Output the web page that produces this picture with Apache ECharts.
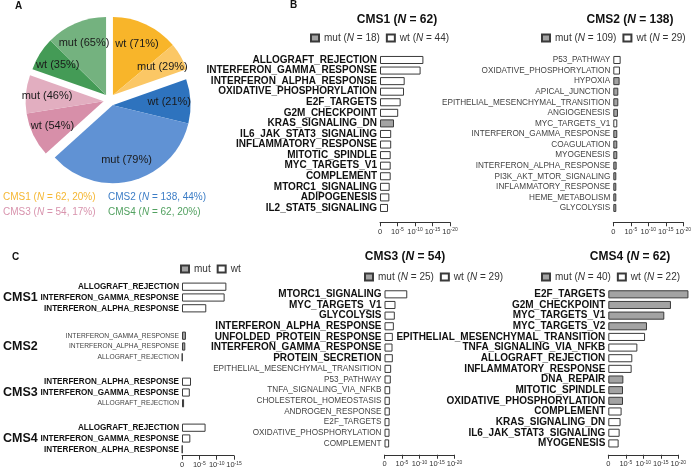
<!DOCTYPE html>
<html><head><meta charset="utf-8">
<script src="https://cdn.jsdelivr.net/npm/echarts/dist/echarts.min.js"></script>
<style>html,body{margin:0;padding:0;background:#fff}#c{width:695px;height:473px}</style>
</head><body><div id="c"></div>
<script>
// ---------------- DATA ----------------
// Panel A
const cmsNames = ['CMS1', 'CMS2', 'CMS3', 'CMS4'];
const cmsN = [62, 138, 54, 62];
const cmsWtN = [44, 29, 29, 22];
const cmsMutN = [18, 109, 25, 40];

// Panel B – CMS1
const b1Terms = ['ALLOGRAFT_REJECTION','INTERFERON_GAMMA_RESPONSE','INTERFERON_ALPHA_RESPONSE','OXIDATIVE_PHOSPHORYLATION','E2F_TARGETS','G2M_CHECKPOINT','KRAS_SIGNALING_DN','IL6_JAK_STAT3_SIGNALING','INFLAMMATORY_RESPONSE','MITOTIC_SPINDLE','MYC_TARGETS_V1','COMPLEMENT','MTORC1_SIGNALING','ADIPOGENESIS','IL2_STAT5_SIGNALING'];
const b1Values = [12.4, 11.6, 7.05, 6.86, 5.9, 5.2, 4.0, 3.2, 3.2, 3.05, 3.05, 3.05, 2.76, 2.67, 2.29];
const b1Group = ['wt','wt','wt','wt','wt','wt','mut','wt','wt','wt','wt','wt','wt','wt','wt'];
const b1Sig = [1,1,1,1,1,1,1,1,1,1,1,1,1,1,1];

// Panel B – CMS2
const b2Terms = ['P53_PATHWAY','OXIDATIVE_PHOSPHORYLATION','HYPOXIA','APICAL_JUNCTION','EPITHELIAL_MESENCHYMAL_TRANSITION','ANGIOGENESIS','MYC_TARGETS_V1','INTERFERON_GAMMA_RESPONSE','COAGULATION','MYOGENESIS','INTERFERON_ALPHA_RESPONSE','PI3K_AKT_MTOR_SIGNALING','INFLAMMATORY_RESPONSE','HEME_METABOLISM','GLYCOLYSIS'];
const b2Values = [2.1, 1.9, 1.8, 1.43, 1.43, 1.33, 1.14, 1.14, 1.14, 1.14, 0.95, 0.86, 0.86, 0.86, 0.86];
const b2Group = ['wt','wt','mut','mut','mut','mut','wt','mut','mut','mut','mut','mut','mut','mut','mut'];
const b2Sig = [0,0,0,0,0,0,0,0,0,0,0,0,0,0,0];

// Panel C – CMS3
const c3Terms = ['MTORC1_SIGNALING','MYC_TARGETS_V1','GLYCOLYSIS','INTERFERON_ALPHA_RESPONSE','UNFOLDED_PROTEIN_RESPONSE','INTERFERON_GAMMA_RESPONSE','PROTEIN_SECRETION','EPITHELIAL_MESENCHYMAL_TRANSITION','P53_PATHWAY','TNFA_SIGNALING_VIA_NFKB','CHOLESTEROL_HOMEOSTASIS','ANDROGEN_RESPONSE','E2F_TARGETS','OXIDATIVE_PHOSPHORYLATION','COMPLEMENT'];
const c3Values = [6.5, 3.14, 2.95, 2.67, 2.38, 2.29, 2.38, 1.9, 1.8, 1.62, 1.52, 1.52, 1.43, 1.43, 1.33];
const c3Group = ['wt','wt','wt','wt','wt','wt','wt','wt','wt','wt','wt','wt','wt','wt','wt'];
const c3Sig = [1,1,1,1,1,1,1,0,0,0,0,0,0,0,0];

// Panel C – CMS4
const c4Terms = ['E2F_TARGETS','G2M_CHECKPOINT','MYC_TARGETS_V1','MYC_TARGETS_V2','EPITHELIAL_MESENCHYMAL_TRANSITION','TNFA_SIGNALING_VIA_NFKB','ALLOGRAFT_REJECTION','INFLAMMATORY_RESPONSE','DNA_REPAIR','MITOTIC_SPINDLE','OXIDATIVE_PHOSPHORYLATION','COMPLEMENT','KRAS_SIGNALING_DN','IL6_JAK_STAT3_SIGNALING','MYOGENESIS'];
const c4Values = [22.9, 17.9, 16.0, 11.05, 10.5, 8.3, 6.86, 6.67, 4.3, 4.2, 4.2, 3.8, 3.5, 3.24, 2.95];
const c4Group = ['mut','mut','mut','mut','wt','wt','wt','wt','mut','mut','mut','wt','wt','wt','wt'];
const c4Sig = [1,1,1,1,1,1,1,1,1,1,1,1,1,1,1];

// Panel C – immune sets per CMS
const cLeftTerms = [
  ['ALLOGRAFT_REJECTION','INTERFERON_GAMMA_RESPONSE','INTERFERON_ALPHA_RESPONSE'],
  ['INTERFERON_GAMMA_RESPONSE','INTERFERON_ALPHA_RESPONSE','ALLOGRAFT_REJECTION'],
  ['INTERFERON_ALPHA_RESPONSE','INTERFERON_GAMMA_RESPONSE','ALLOGRAFT_REJECTION'],
  ['ALLOGRAFT_REJECTION','INTERFERON_GAMMA_RESPONSE','INTERFERON_ALPHA_RESPONSE']
];
const cLeftValues = [[12.8, 12.3, 7.0], [1.14, 0.95, 0.12], [2.6, 2.25, 0.6], [6.8, 2.4, 0.12]];
const cLeftGroup = [['wt','wt','wt'], ['mut','mut','mut'], ['wt','wt','mut'], ['wt','wt','wt']];
const cLeftSig = [[1,1,1], [0,0,0], [1,1,0], [1,1,1]];

// ---------------- STYLE ----------------
const FONT = '"Liberation Sans", Arial, sans-serif';
const pieWt = ['#F8B52A', '#2E73BE', '#D78FA9', '#449B56'];
const pieMut = ['#FBC765', '#6092D4', '#E2AEC0', '#74B27F'];
const legendCol = ['#F5B733', '#3C7DC6', '#D893AD', '#52A160'];
const MUT_FILL = '#A3A3A3', WT_FILL = '#FFFFFF', EDGE = '#3a3a3a';

const chart = echarts.init(document.getElementById('c'), null, {renderer: 'canvas'});

const tickFmt = v => v === 0 ? '{b|0}' : '{b|10}{s|-' + v + '}';
const tickRich = {
  b: {fontSize: 7.5, lineHeight: 9, fontFamily: FONT, color: '#333'},
  s: {fontSize: 5, lineHeight: 5, verticalAlign: 'top', fontFamily: FONT, color: '#333'}
};

const grids = [], xAxes = [], yAxes = [], series = [], legends = [], graphics = [];

function barPanel(o) {
  const gi = grids.length;
  grids.push({left: o.left, top: o.top, width: o.width, height: o.slot * o.terms.length, outerBoundsMode: 'none', containLabel: false});
  xAxes.push({
    gridIndex: gi, type: 'value', min: 0, max: o.max, interval: 5, offset: o.offset,
    show: o.showAxis,
    axisLine: {show: true, onZero: false, lineStyle: {color: '#333', width: 1}},
    axisTick: {show: true, length: 4, lineStyle: {color: '#333', width: 1}},
    splitLine: {show: false},
    axisLabel: {margin: 5, formatter: tickFmt, rich: tickRich, hideOverlap: false}
  });
  yAxes.push({
    gridIndex: gi, type: 'category', inverse: true,
    data: o.terms.map((t, i) => ({value: t, textStyle: o.sig[i]
      ? {fontWeight: 'bold', fontFamily: FONT, fontSize: o.bfs, color: '#111'}
      : {fontWeight: 'normal', fontFamily: FONT, fontSize: o.nfs, color: '#444'}})),
    axisLine: {show: false}, axisTick: {show: false}, splitLine: {show: false},
    axisLabel: {margin: 3, interval: 0, hideOverlap: false}
  });
  ['mut', 'wt'].forEach(g => {
    series.push({
      type: 'bar', name: o.prefix + g, xAxisIndex: gi, yAxisIndex: gi,
      data: o.values.map((v, i) => o.group[i] === g ? v : '-'),
      barGap: '-100%', barCategoryGap: '24%', clip: false,
      itemStyle: {color: g === 'mut' ? MUT_FILL : WT_FILL, borderColor: EDGE, borderWidth: 1},
      emphasis: {disabled: true}, animation: false, silent: true
    });
  });
  return gi;
}

function addLegend(prefix, left, top, nMut, nWt) {
  legends.push({
    data: [prefix + 'mut', prefix + 'wt'], left: left, top: top, orient: 'horizontal', icon: 'rect',
    itemWidth: 8, itemHeight: 7, itemGap: 6, padding: 0, selectedMode: false,
    textStyle: {fontSize: 10, color: '#333', fontFamily: FONT, rich: {i: {fontStyle: 'italic', fontSize: 10, color: '#333', fontFamily: FONT}}},
    formatter: name => {
      const g = name.slice(prefix.length);
      const n = g === 'mut' ? nMut : nWt;
      return n == null ? g : g + ' ({i|N} = ' + n + ')';
    }
  });
}

function titleText(x, y, name, n) {
  graphics.push({type: 'text', x: x, y: y, silent: true, style: {
    text: '{b|' + name + ' (}{bi|N}{b| = ' + n + ')}', align: 'center', verticalAlign: 'middle',
    rich: {b: {fontSize: 12, fontWeight: 'bold', fontFamily: FONT, fill: '#111'},
           bi: {fontSize: 12, fontWeight: 'bold', fontStyle: 'italic', fontFamily: FONT, fill: '#111'}}
  }});
}

// Panel B
barPanel({prefix: 'B1', terms: b1Terms, values: b1Values, group: b1Group, sig: b1Sig, left: 380, top: 54.7, width: 70, slot: 10.57, max: 20, offset: 9, showAxis: true, bfs: 10, nfs: 8.2});
barPanel({prefix: 'B2', terms: b2Terms, values: b2Values, group: b2Group, sig: b2Sig, left: 613.3, top: 54.7, width: 70, slot: 10.57, max: 20, offset: 9, showAxis: true, bfs: 10, nfs: 8.2});
titleText(397, 20, cmsNames[0], cmsN[0]);
titleText(630, 20, cmsNames[1], cmsN[1]);
addLegend('B1', 310, 33, cmsMutN[0], cmsWtN[0]);
addLegend('B2', 541, 33, cmsMutN[1], cmsWtN[1]);

// Panel C right
barPanel({prefix: 'C3', terms: c3Terms, values: c3Values, group: c3Group, sig: c3Sig, left: 384.5, top: 289, width: 70, slot: 10.65, max: 20, offset: 6, showAxis: true, bfs: 10, nfs: 8.2});
barPanel({prefix: 'C4', terms: c4Terms, values: c4Values, group: c4Group, sig: c4Sig, left: 608.3, top: 289, width: 70, slot: 10.65, max: 20, offset: 6, showAxis: true, bfs: 10, nfs: 8.2});
titleText(405, 257, cmsNames[2], cmsN[2]);
titleText(630, 257, cmsNames[3], cmsN[3]);
addLegend('C3', 364, 272, cmsMutN[2], cmsWtN[2]);
addLegend('C4', 541, 272, cmsMutN[3], cmsWtN[3]);

// Panel C left
const cLeftTops = [281.3, 330.3, 376.3, 422.3];
cLeftTerms.forEach((terms, k) => {
  barPanel({prefix: 'CL' + k, terms: terms, values: cLeftValues[k], group: cLeftGroup[k], sig: cLeftSig[k],
    left: 182, top: cLeftTops[k], width: 52, slot: 10.8, max: 15, offset: 1, showAxis: k === 3, bfs: 8.15, nfs: 6.7});
  graphics.push({type: 'text', x: 3, y: cLeftTops[k] + 16.2, silent: true, style: {
    text: cmsNames[k], verticalAlign: 'middle', fontSize: 12.5, fontWeight: 'bold', fontFamily: FONT, fill: '#111'}});
});
addLegend('CL0', 180, 264, null, null);

// Panel letters
[['A', 15, 6], ['B', 290, 5], ['C', 12, 257]].forEach(([t, x, y]) => graphics.push({type: 'text', x: x, y: y, silent: true,
  style: {text: t, verticalAlign: 'middle', fontSize: 10, fontWeight: 'bold', fontFamily: FONT, fill: '#111'}}));

// Panel A – pie built from the CMS counts
const total = cmsN.reduce((a, b) => a + b, 0);
const PCX = 109.5, PCY = 100, PR = 78, EXPLODE = 6;
const slices = [];
cmsNames.forEach((n, k) => {
  slices.push({g: k, kind: 'wt', v: cmsWtN[k]});
  slices.push({g: k, kind: 'mut', v: cmsMutN[k]});
});
let cum = 0;
cmsNames.forEach((n, k) => {
  const mid = (cum + cmsN[k] / 2) / total * 2 * Math.PI;
  cum += cmsN[k];
  const cx = PCX + EXPLODE * Math.sin(mid), cy = PCY - EXPLODE * Math.cos(mid);
  const mk = (withLabel) => slices.map(s => ({
    name: s.kind + ' (' + Math.round(s.v / cmsN[s.g] * 100) + '%)', value: s.v,
    itemStyle: {color: withLabel ? 'rgba(0,0,0,0)' : (s.g === k ? (s.kind === 'wt' ? pieWt[k] : pieMut[k]) : 'rgba(0,0,0,0)')},
    label: {show: withLabel && s.g === k}
  }));
  series.push({type: 'pie', center: [cx, cy], radius: [0, PR], startAngle: 90, clockwise: true,
    data: mk(false), label: {show: false}, labelLine: {show: false}, silent: true, animation: false,
    emphasis: {disabled: true}, itemStyle: {borderWidth: 0}});
  series.push({type: 'pie', center: [cx, cy], radius: [PR * 0.38, PR], startAngle: 90, clockwise: true,
    data: mk(true), labelLine: {show: false}, silent: true, animation: false, emphasis: {disabled: true},
    itemStyle: {borderWidth: 0},
    label: {position: 'inside', fontSize: 11, color: '#1a1a1a', fontFamily: FONT, formatter: '{b}'}});
});

// Pie legend text
const legPos = [[3, 197], [108, 197], [3, 212], [108, 212]];
cmsNames.forEach((n, k) => {
  const pct = Math.round(cmsN[k] / total * 100);
  graphics.push({type: 'text', x: legPos[k][0], y: legPos[k][1], silent: true, style: {
    text: '{a|' + n + ' (}{i|N}{a| = ' + cmsN[k] + ', ' + pct + '%)}', verticalAlign: 'middle',
    rich: {a: {fontSize: 10, fontFamily: FONT, fill: legendCol[k]}, i: {fontSize: 10, fontStyle: 'italic', fontFamily: FONT, fill: legendCol[k]}}
  }});
});

chart.setOption({
  animation: false,
  grid: grids, xAxis: xAxes, yAxis: yAxes, series: series, legend: legends,
  graphic: {elements: graphics},
  tooltip: {show: false}
});
</script></body></html>
